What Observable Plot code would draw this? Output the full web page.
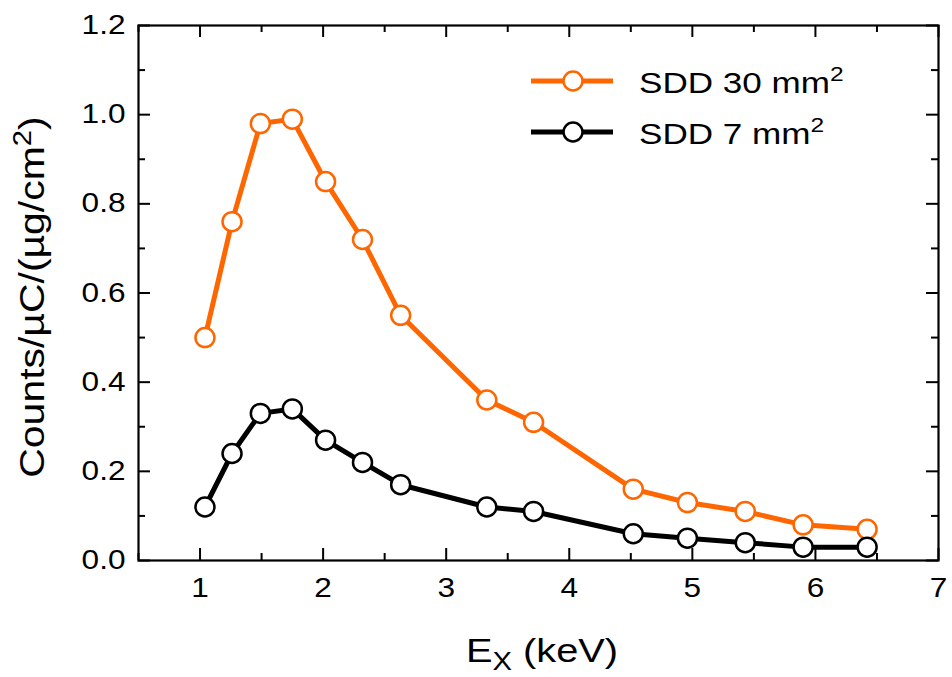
<!DOCTYPE html>
<html>
<head>
<meta charset="utf-8">
<script src="https://cdn.jsdelivr.net/npm/d3@7"></script>
<script src="https://cdn.jsdelivr.net/npm/@observablehq/plot@0.6"></script>
<style>
  html, body { margin: 0; padding: 0; background: white; }
  #chart { width: 952px; height: 677px; }
</style>
</head>
<body>
<div id="chart"></div>
<script>
// ---- data ----
const energy = [1.04, 1.26, 1.49, 1.75, 2.02, 2.32, 2.63, 3.33, 3.71, 4.52, 4.96, 5.43, 5.90, 6.42];
const sdd30  = [0.50, 0.76, 0.98, 0.99, 0.85, 0.72, 0.55, 0.36, 0.31, 0.16, 0.13, 0.11, 0.08, 0.07];
const sdd7   = [0.12, 0.24, 0.33, 0.34, 0.27, 0.22, 0.17, 0.12, 0.11, 0.06, 0.05, 0.04, 0.03, 0.03];
const seriesNames = ["SDD 30 mm", "SDD 7 mm"];   // followed by superscript 2
const seriesColors = ["#ff6600", "#000000"];
const xMajor = [1, 2, 3, 4, 5, 6, 7];
const xMinor = [0.5, 1.5, 2.5, 3.5, 4.5, 5.5, 6.5];
const yMajor = [0, 0.2, 0.4, 0.6, 0.8, 1.0, 1.2];
const yMinor = [0.1, 0.3, 0.5, 0.7, 0.9, 1.1];

const W = 952, H = 677;
const mL = 138, mR = 14, mT = 25, mB = 117;
const innerW = W - mL - mR, innerH = H - mT - mB;
const font = "'Liberation Sans', Arial, Helvetica, sans-serif";
const WIDEN = 1.17; // reference glyphs are wider than Liberation Sans

const rows30 = energy.map((e, i) => ({x: e, y: sdd30[i]}));
const rows7  = energy.map((e, i) => ({x: e, y: sdd7[i]}));

const majLen = 12, minLen = 7;
const chart = Plot.plot({
  width: W, height: H,
  marginLeft: mL, marginRight: mR, marginTop: mT, marginBottom: mB,
  style: {fontFamily: font, background: "white", color: "black", overflow: "visible"},
  x: {domain: [0.5, 7]},
  y: {domain: [0, 1.2]},
  marks: [
    // inward ticks on all four sides
    Plot.tickX(xMajor, {x: d => d, insetTop: innerH - majLen, stroke: "black", strokeWidth: 2}),
    Plot.tickX(xMajor, {x: d => d, insetBottom: innerH - majLen, stroke: "black", strokeWidth: 2}),
    Plot.tickX(xMinor, {x: d => d, insetTop: innerH - minLen, stroke: "black", strokeWidth: 2}),
    Plot.tickX(xMinor, {x: d => d, insetBottom: innerH - minLen, stroke: "black", strokeWidth: 2}),
    Plot.tickY(yMajor, {y: d => d, insetRight: innerW - majLen, stroke: "black", strokeWidth: 2}),
    Plot.tickY(yMajor, {y: d => d, insetLeft: innerW - majLen, stroke: "black", strokeWidth: 2}),
    Plot.tickY(yMinor, {y: d => d, insetRight: innerW - minLen, stroke: "black", strokeWidth: 2}),
    Plot.tickY(yMinor, {y: d => d, insetLeft: innerW - minLen, stroke: "black", strokeWidth: 2}),
    Plot.axisX({ticks: xMajor, tickSize: 0, tickPadding: 17, fontSize: 27, label: null, tickFormat: d => String(d)}),
    Plot.axisY({ticks: yMajor, tickSize: 0, tickPadding: 13, fontSize: 27, label: null, tickFormat: d3.format(".1f")}),
    Plot.frame({stroke: "black", strokeWidth: 2.2}),
    // series
    Plot.line(rows30, {x: "x", y: "y", stroke: seriesColors[0], strokeWidth: 5}),
    Plot.dot(rows30, {x: "x", y: "y", r: 9.5, fill: "white", stroke: seriesColors[0], strokeWidth: 2.5}),
    Plot.line(rows7, {x: "x", y: "y", stroke: seriesColors[1], strokeWidth: 5}),
    Plot.dot(rows7, {x: "x", y: "y", r: 9.5, fill: "white", stroke: seriesColors[1], strokeWidth: 2.5})
  ]
});
document.getElementById("chart").appendChild(chart);

const svg = d3.select(chart);
// widen the tick labels to match the reference glyph proportions
svg.selectAll('g[aria-label="x-axis tick label"] text, g[aria-label="y-axis tick label"] text')
  .each(function () {
    const t = this.getAttribute("transform");
    if (t) this.setAttribute("transform", t + ` scale(${WIDEN},1)`);
  });

// x-axis title with subscript
const xt = svg.append("text")
  .attr("transform", `translate(542, 662) scale(${WIDEN},1)`)
  .attr("text-anchor", "middle")
  .style("font-family", font).style("font-size", "34px").attr("fill", "black");
xt.append("tspan").text("E");
xt.append("tspan").attr("dy", 8).style("font-size", "25px").text("X");
xt.append("tspan").attr("dy", -8).text(" (keV)");

// y-axis title with superscript
const yt = svg.append("text")
  .attr("transform", `translate(44, 297) rotate(-90) scale(${WIDEN},1)`)
  .attr("text-anchor", "middle")
  .style("font-family", font).style("font-size", "35px").attr("fill", "black");
yt.append("tspan").text("Counts/µC/(µg/cm");
yt.append("tspan").attr("dy", -13).style("font-size", "25px").text("2");
yt.append("tspan").attr("dy", 13).text(")");

// legend
const lg = svg.append("g");
seriesNames.forEach((name, i) => {
  const cy = 81 + i * 51;
  lg.append("line").attr("x1", 531).attr("x2", 613).attr("y1", cy).attr("y2", cy)
    .attr("stroke", seriesColors[i]).attr("stroke-width", 5);
  lg.append("circle").attr("cx", 573).attr("cy", cy).attr("r", 9.5)
    .attr("fill", "white").attr("stroke", seriesColors[i]).attr("stroke-width", 2.5);
  const t = lg.append("text")
    .attr("transform", `translate(639, ${cy + 12}) scale(${WIDEN},1)`)
    .attr("text-anchor", "start")
    .style("font-family", font).style("font-size", "30px").attr("fill", "black");
  t.append("tspan").text(name);
  t.append("tspan").attr("dy", -12).style("font-size", "21px").text("2");
});
</script>
</body>
</html>
